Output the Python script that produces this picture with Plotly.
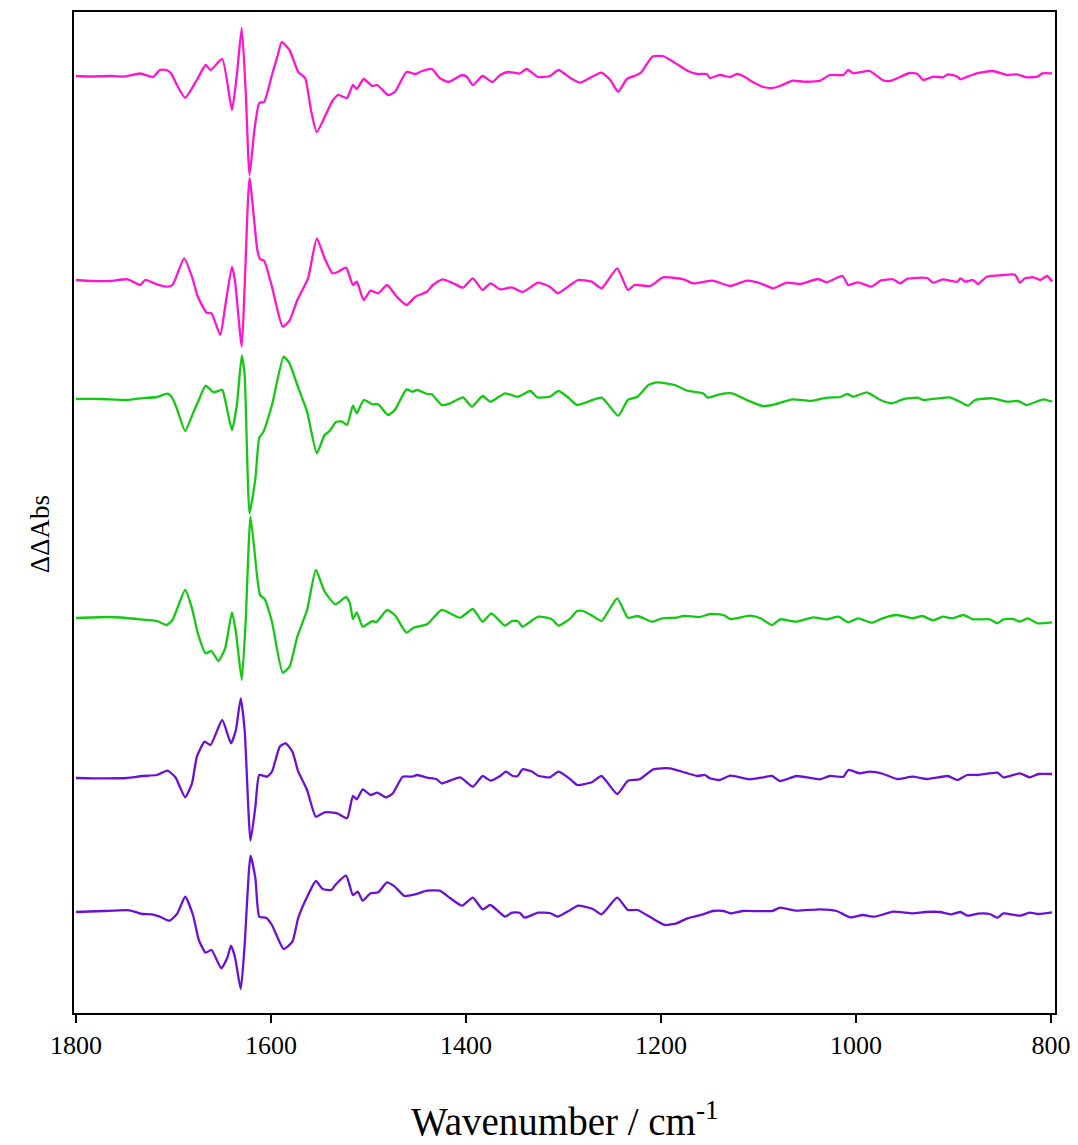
import plotly.graph_objects as go

# Wavenumbers (cm-1) and difference-spectrum values (arbitrary units, relative to each trace's baseline)
wn_1 = [1800,1786,1765,1750,1734,1721,1714,1707,1702,1698,1688,1676,1667,1662,1650,1640,1635,1630,1626,1622,1617,1612,1607,1599,1593,1589,1581,1572,1565,1559,1553,1543,1537,1531,1522,1516,1512,1505,1496,1491,1480,1473,1461,1452,1445,1435,1427,1418,1404,1399,1393,1383,1373,1365,1357,1345,1338,1326,1314,1305,1293,1283,1273,1261,1252,1244,1235,1225,1220,1209,1198,1186,1173,1163,1153,1150,1140,1129,1122,1114,1106,1095,1086,1078,1065,1054,1037,1027,1013,1008,1003,986,973,965,945,937,931,921,911,906,896,893,886,876,860,845,835,825,814,809,799]
val_1 = [0,-0.5,0,-0.5,2.5,-1,6,6,2,-6,-21.7,-4,11,6,17,-34,1,48,-14,-99,-54,-27,-26,1,21,34,26,4,-2,-34,-56,-37,-25,-19,-22,-9,-13,-3,-10,-9,-19,-16,4,2,5,7,-2,-6,1,-1,-9,0,-6,1,4,2.5,7,-1,0,6,-2,-6.7,-2,3.3,-4,-15.7,-3,1,4,19.3,20,13.3,5.3,2,2,-2,1,-1,2,-1,-6,-11,-12,-10,-4.7,-5.7,-4.7,1,1,6,2.7,5,-4,-5,3,2,-4,-0.7,-1.3,1.7,-0.7,-3.3,-0.7,2.7,5,1,1.7,-1.3,-0.7,2.7,2.7]

wn_2 = [1800,1783,1765,1747,1734,1729,1717,1707,1701,1689,1681,1675,1666,1661,1652,1647,1640,1637,1630,1627,1622,1614,1611,1607,1599,1588,1581,1573,1562,1553,1545,1537,1531,1523,1516,1512,1505,1498,1490,1481,1471,1461,1452,1440,1434,1424,1413,1403,1393,1383,1375,1365,1353,1342,1326,1314,1306,1293,1285,1271,1261,1245,1234,1227,1211,1198,1177,1167,1147,1129,1112,1098,1085,1071,1057,1039,1030,1014,1008,998,984,975,962,955,947,927,921,911,896,893,888,880,875,866,849,837,832,827,818,811,804,799]
val_2 = [0,-1,-1,0.7,-5,0,-4.3,-6.7,-5,21.7,3.3,-16.7,-32.7,-33.3,-55,-26.7,13.3,0,-66.7,-6.7,102,30,20.7,19.3,-6.7,-46.7,-40.7,-20,1.7,41.7,21.7,6.7,8.3,12.3,-5,-1.7,-20,-10.7,-13.3,-5,-16.7,-25,-16.7,-11.7,-5,0.7,-3.3,-7.7,1.7,-10,-3.3,-9.3,-7.3,-12,-2.7,-6.7,-13.3,-5,0,-1.7,-8.3,11.7,-10,-5,-6,2.7,0.7,-3.3,-0.7,-6,-0.7,-3.3,-8.3,-2.7,-4,1,-2.3,4,-5,-2.3,-6.7,-0.7,0.7,-3.3,1.3,2,-2.7,0.7,-1.7,1.7,-1.7,0,-4,3.3,5,5.3,-2.7,1.7,2.7,0,4,-1.7]

wn_3 = [1800,1775,1747,1734,1717,1706,1701,1696,1688,1680,1674,1667,1659,1650,1647,1640,1635,1630,1627,1622,1616,1612,1608,1599,1587,1581,1573,1563,1553,1545,1540,1533,1527,1522,1516,1512,1505,1496,1490,1480,1473,1461,1455,1450,1440,1435,1425,1416,1403,1394,1383,1375,1360,1347,1334,1327,1314,1305,1295,1286,1261,1244,1234,1224,1213,1204,1186,1173,1157,1152,1140,1127,1112,1096,1086,1065,1047,1030,1016,1009,1003,989,975,963,952,937,931,904,895,885,878,860,845,834,825,808,799]
val_3 = [0,0,-1,0.7,2,5.3,0.7,-11,-32,-14.3,-1,13.3,6.7,9,-1,-31,-6,43.3,24,-114.3,-79.3,-38.7,-33.3,-6,42.3,35.7,14,-12.7,-54.3,-36,-32,-22.7,-22.7,-26,-6.7,-14.3,-1,-5.3,-5.3,-16,-11,9.7,7.3,9,5,4.7,-6,-4.3,1.7,-7.7,3,-2.7,5.7,2.3,8,1.7,2.3,8,1.3,-6,1.3,-16.7,-1,2.3,14,16.7,14,8.3,5.7,1.3,4.7,5.7,-1,-7,-6,-0.3,-2,1.3,2,5,2.3,6.7,-1,-4.3,-0.3,1.3,-1,1.7,-2,-6.7,-1,0.7,-2.7,-2,-6,-0.3,-2.7]

wn_4 = [1800,1768,1748,1734,1717,1707,1701,1688,1681,1675,1667,1661,1654,1647,1640,1636,1630,1626,1621,1614,1611,1607,1599,1588,1581,1573,1563,1554,1545,1534,1523,1519,1516,1512,1506,1496,1492,1481,1473,1461,1454,1440,1425,1406,1393,1383,1374,1360,1353,1347,1342,1326,1312,1305,1293,1286,1280,1270,1261,1245,1234,1224,1209,1199,1184,1177,1160,1150,1136,1129,1109,1098,1086,1078,1061,1044,1030,1018,1008,998,984,973,958,942,932,921,911,901,890,880,863,855,849,839,832,824,814,799]
val_4 = [0,1,0,-1.3,-3,-7,-2,28,9.7,-15.3,-35.3,-33,-43,-30.3,5.7,-13.7,-62,-3.7,101.3,39.7,22.3,19.7,-3.7,-54.7,-48.7,-18.7,8,48,26.3,13.7,21,14.7,-1,5.7,-8.7,-3,-4.3,8,3,-14.7,-9.7,-6.3,8,0.3,9,-3.7,4.7,-7.7,-3,-3,-8.7,1.3,-1.3,-7.7,-0.3,7,7,2,-3,19.7,0.3,2,-3.7,-0.3,0.3,2,1,4,3,-1,2.3,-0.3,-7,-1.3,-3.7,0.7,-1.3,1.3,-4.3,-0.3,-4.7,-0.3,3,-0.3,2,-2.3,1.3,-0.3,3,-1.3,-1.3,-5.3,-1.3,-1,-3.7,-0.3,-5.3,-4.3]

wn_5 = [1800,1783,1748,1732,1717,1706,1698,1688,1681,1676,1668,1662,1650,1641,1636,1631,1627,1621,1616,1612,1604,1599,1591,1585,1578,1572,1563,1554,1545,1532,1522,1516,1512,1506,1498,1491,1482,1475,1465,1455,1450,1440,1430,1425,1406,1393,1383,1375,1365,1359,1352,1347,1342,1332,1326,1314,1305,1293,1286,1271,1261,1245,1234,1222,1208,1191,1175,1163,1155,1150,1140,1129,1109,1095,1086,1078,1061,1037,1027,1013,1008,996,986,972,958,942,927,906,896,886,875,855,849,832,822,813,799]
val_5 = [0,-0.3,0,2,3,7.3,0.7,-19.3,-5.3,21.3,36.3,33,58,34.7,48,79.7,48,-62.7,-28.7,3,1.3,6.3,31.3,34.7,26.3,6.3,-12,-38.7,-34.3,-35.3,-40.3,-18,-21.3,-11.3,-17,-14.7,-19.3,-15.3,1.3,1.3,3,0.3,-1.3,-5.3,0.7,-8.7,2,-2.7,2,6.3,2,2,8.7,6.3,2.3,0.7,6.3,-1.3,-7,-4.3,2,-16,-2.7,-1.3,8.7,9.7,5.3,2,3,-0.3,-2,2.3,-1.3,0.7,2,-3,2,-1.3,2,1.3,8,4.7,6.3,4,-1,1.3,-1,2,-2,3,3,5.3,0.7,4.7,0.7,4,4]

wn_6 = [1800,1772,1745,1732,1722,1714,1704,1696,1688,1680,1674,1667,1661,1651,1645,1641,1637,1631,1627,1621,1616,1612,1605,1599,1587,1578,1572,1562,1554,1547,1538,1534,1523,1516,1511,1506,1498,1490,1481,1473,1463,1452,1440,1427,1416,1404,1393,1383,1375,1360,1353,1345,1340,1326,1314,1306,1293,1285,1270,1261,1245,1234,1224,1209,1196,1184,1173,1157,1147,1136,1129,1116,1086,1078,1061,1037,1020,1006,993,981,962,942,929,914,902,893,886,875,863,855,849,832,822,813,799]
val_6 = [0,1,1.7,-2,-2.3,-4.7,-8.7,-1.3,15.3,-3,-28,-40.7,-38,-56.3,-46.3,-33.7,-44.7,-77,-33,56.3,33.7,-4.7,-5.7,-13,-37,-29.7,-5.7,17,31,23,22,27,36.3,17,20.3,11.3,18.7,19.7,29.7,25.3,16,17.7,21.3,21.3,13.7,6.3,14.3,2.7,7,-4.7,-0.7,-0.7,-5.7,-0.7,-1,-4.7,2,6.3,3,-2.3,14.3,2,2,-6.3,-13,-11.3,-6.3,-2.3,1,1,-1.3,1,1,4.3,1.3,2.7,1,-5.3,-3,-4.7,0.3,-1.3,0,0,-2.3,0,-3.7,-1.7,-2,-5.7,-1.3,-3.7,-0.7,-2,-0.3]

offsets = [937, 733, 614, 395, 235, 101]
colors = ["#FF14CF", "#FF14CF", "#14C814", "#14C814", "#6A10D8", "#6A10D8"]
tick_vals = [1800, 1600, 1400, 1200, 1000, 800]
tick_text = ["1800", "1600", "1400", "1200", "1000", "800"]

series = [(wn_1, val_1), (wn_2, val_2), (wn_3, val_3), (wn_4, val_4), (wn_5, val_5), (wn_6, val_6)]

fig = go.Figure()
for (wn, val), off, col in zip(series, offsets, colors):
    fig.add_trace(go.Scatter(
        x=wn, y=[off + v for v in val], mode="lines",
        line=dict(color=col, width=2.3, shape="spline", smoothing=0.5),
        showlegend=False, hoverinfo="skip"))

serif = "Liberation Serif, Times New Roman, serif"
fig.update_layout(
    width=1078, height=1145,
    margin=dict(l=74, r=23, t=12, b=132, autoexpand=False),
    plot_bgcolor="white", paper_bgcolor="white",
    font=dict(family=serif, color="black"),
    annotations=[
        dict(text="Wavenumber / cm<sup>-1</sup>", xref="paper", yref="paper",
             x=0.5, y=-0.106, xanchor="center", yanchor="middle", showarrow=False,
             font=dict(family=serif, size=39, color="black")),
        dict(text="ΔΔAbs", xref="paper", yref="paper", textangle=-90,
             x=-0.035, y=0.478, xanchor="center", yanchor="middle", showarrow=False,
             font=dict(family=serif, size=27, color="black")),
    ],
)
fig.update_xaxes(
    range=[1802, 796], tickvals=tick_vals, ticktext=tick_text,
    ticks="outside", ticklen=8, tickwidth=2, tickcolor="black",
    showline=True, linecolor="black", linewidth=2, mirror=True,
    showgrid=False, zeroline=False, automargin=False,
    tickfont=dict(family=serif, size=26, color="black"),
)
fig.update_yaxes(
    range=[0, 1001], showticklabels=False, ticks="",
    showline=True, linecolor="black", linewidth=2, mirror=True,
    showgrid=False, zeroline=False, automargin=False,
)

fig.write_html("out.html")
